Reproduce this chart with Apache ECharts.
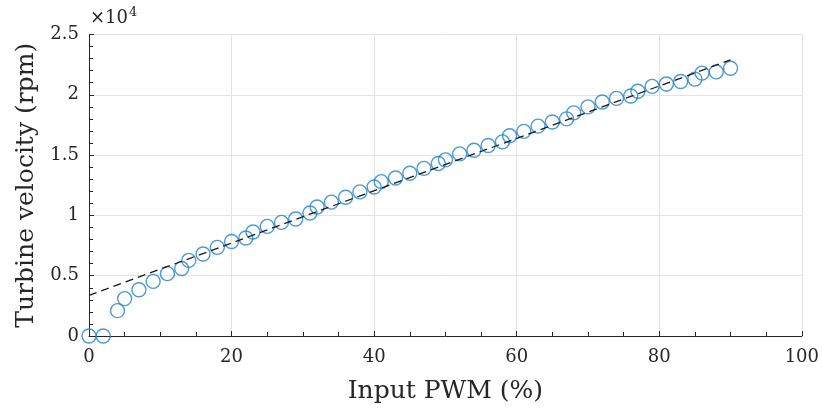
<!DOCTYPE html>
<html>
<head>
<meta charset="utf-8">
<script src="https://cdn.jsdelivr.net/npm/echarts@6/dist/echarts.min.js"></script>
<style>html,body{margin:0;padding:0;background:#fff;}#c{width:822px;height:409px;}</style>
</head>
<body>
<div id="c"></div>
<script>
const pwm = [0,2,4,5,7,9,11,13,14,16,18,20,22,23,25,27,29,31,32,34,36,38,40,41,43,45,47,49,50,52,54,56,58,59,61,63,65,67,68,70,72,74,76,77,79,81,83,85,86,88,90];
const velocity = [0,0,2100,3100,3840,4530,5170,5600,6270,6800,7350,7840,8130,8620,9090,9420,9700,10200,10700,11100,11500,11950,12350,12800,13100,13500,13900,14300,14600,15100,15400,15800,16100,16600,16970,17400,17750,18000,18500,19000,19400,19700,19900,20300,20700,20900,21100,21300,21800,21900,22200];
const fitX = [0,90];
const fitY = [3370,22900];
const xTicks = [0,20,40,60,80,100];
const yTicks = [0,0.5,1,1.5,2,2.5];
const yScale = 10000;

const FONT = 'DejaVu Serif';
const AX = '#262626';
const chart = echarts.init(document.getElementById('c'), null, {renderer:'canvas'});
chart.setOption({
  animation:false,
  backgroundColor:'#fff',
  grid:{left:89, right:20, top:34.5, bottom:72.7, containLabel:false},
  xAxis:{
    type:'value', min:xTicks[0], max:xTicks[xTicks.length-1], interval:xTicks[1]-xTicks[0],
    name:'Input PWM (%)', nameLocation:'middle', nameGap:43,
    nameTextStyle:{fontFamily:FONT, fontSize:25, color:AX},
    axisLine:{show:true, onZero:false, lineStyle:{color:AX, width:1}},
    axisTick:{show:true, inside:true, length:5, lineStyle:{color:AX}},
    minorTick:{show:true, splitNumber:4, length:4, lineStyle:{color:AX}},
    axisLabel:{fontFamily:FONT, fontSize:18, color:AX, margin:12},
    splitLine:{show:true, lineStyle:{color:'#e3e3e3', width:1}}
  },
  yAxis:{
    type:'value', min:yTicks[0]*yScale, max:yTicks[yTicks.length-1]*yScale, interval:(yTicks[1]-yTicks[0])*yScale,
    name:'Turbine velocity (rpm)', nameLocation:'middle', nameGap:48, nameRotate:90,
    nameTextStyle:{fontFamily:FONT, fontSize:25, color:AX},
    axisLine:{show:true, onZero:false, lineStyle:{color:AX, width:1}},
    axisTick:{show:true, inside:true, length:5, lineStyle:{color:AX}},
    minorTick:{show:true, splitNumber:5, length:4, lineStyle:{color:AX}},
    axisLabel:{fontFamily:FONT, fontSize:18, color:AX, margin:10, formatter:v=>String(+(v/yScale).toFixed(2))},
    splitLine:{show:true, lineStyle:{color:'#e3e3e3', width:1}}
  },
  graphic:[{
    type:'text', left:90, top:6,
    style:{
      text:'{a|×10}{b|4}',
      rich:{
        a:{fontFamily:FONT, fontSize:18, fill:AX, verticalAlign:'bottom'},
        b:{fontFamily:FONT, fontSize:13, fill:AX, verticalAlign:'top', padding:[0,0,8,1]}
      }
    }
  }],
  series:[
    {
      type:'scatter', z:2,
      data:pwm.map((x,i)=>[x,velocity[i]]),
      symbol:'circle', symbolSize:14,
      itemStyle:{color:'rgba(0,0,0,0)', borderColor:'#1f80c9', borderWidth:1.4}
    },
    {
      type:'line', z:3,
      data:fitX.map((x,i)=>[x,fitY[i]]),
      showSymbol:false, symbol:'none',
      lineStyle:{color:'#1a1a1a', width:1.3, type:[8,5]}
    }
  ]
});
</script>
</body>
</html>
